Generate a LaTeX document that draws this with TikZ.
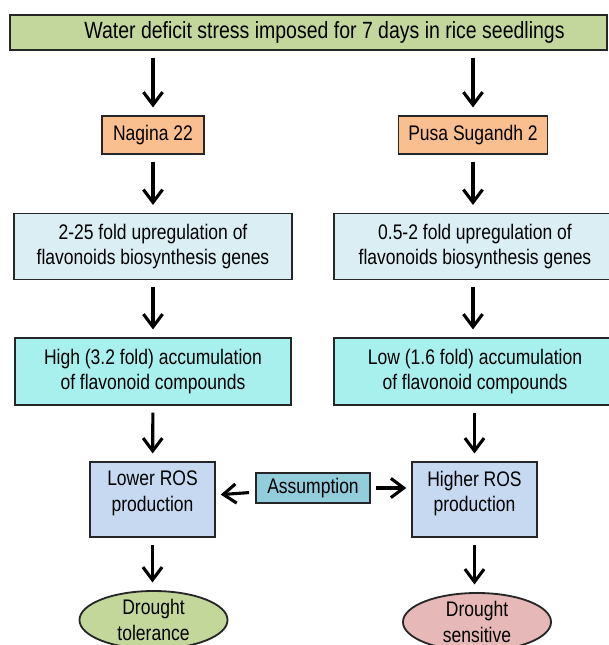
\documentclass[tikz,border=0pt]{standalone}
\usepackage{fontspec}
\setmainfont{Liberation Sans}[FakeStretch=0.83]
\usetikzlibrary{positioning, arrows.meta, shapes.geometric}

\definecolor{stressgreen}{RGB}{195,214,155}
\definecolor{cultivar}{RGB}{250,191,143}
\definecolor{genesblue}{RGB}{219,238,244}
\definecolor{flavcyan}{RGB}{168,240,238}
\definecolor{rosblue}{RGB}{198,217,241}
\definecolor{assumeblue}{RGB}{146,205,220}
\definecolor{tolgreen}{RGB}{196,215,155}
\definecolor{senspink}{RGB}{230,185,184}

\begin{document}
\begin{tikzpicture}[
    x=0.025cm, y=-0.025cm,
    box/.style={draw=black!85, line width=1.3pt, align=center, inner sep=0pt, font=\fontsize{15}{18}\selectfont},
    oval/.style={box, ellipse, minimum width=3.7cm, minimum height=1.45cm},
    arrow/.style={-{Straight Barb[length=3.2mm, width=4.8mm]}, line width=2.2pt, shorten <=0.17cm, shorten >=0.19cm}
]
\useasboundingbox (0,0) rectangle (608,645);

% Stress treatment
\node[box, fill=stressgreen, minimum width=14.925cm, minimum height=0.875cm, font=\fontsize{16.7}{19}\selectfont] (stress) at (308.5,32.5) {\hspace*{0.8cm}Water deficit stress imposed for 7 days in rice seedlings};

% Cultivars
\node[box, fill=cultivar, minimum width=2.55cm, minimum height=0.95cm] (nagina) at (153,135) {Nagina 22};
\node[box, fill=cultivar, minimum width=3.725cm, minimum height=0.95cm] (pusa) at (473,135) {Pusa Sugandh 2};

% Gene expression
\node[box, fill=genesblue, minimum width=6.93cm, minimum height=1.65cm] (genesL) at (153,246.5) {2-25 fold upregulation of\\flavonoids biosynthesis genes};
\node[box, fill=genesblue, minimum width=7.05cm, minimum height=1.65cm] (genesR) at (475,246.5) {0.5-2 fold upregulation of\\flavonoids biosynthesis genes};

% Flavonoid content
\node[box, fill=flavcyan, minimum width=6.9cm, minimum height=1.675cm] (flavL) at (153,371.5) {High (3.2 fold) accumulation\\of flavonoid compounds};
\node[box, fill=flavcyan, minimum width=7.05cm, minimum height=1.675cm] (flavR) at (475,371.5) {Low (1.6 fold) accumulation\\of flavonoid compounds};

% ROS
\node[box, fill=rosblue, minimum width=3.125cm, minimum height=1.875cm] (rosL) at (152.5,499.5) {Lower ROS\\production\\[-6pt]\mbox{}};
\node[box, fill=rosblue, minimum width=3.125cm, minimum height=1.875cm] (rosR) at (474.5,499.5) {Higher ROS\\production\\[-6pt]\mbox{}};
\node[box, fill=assumeblue, minimum width=2.85cm, minimum height=0.75cm] (assume) at (313,488) {Assumption};

% Outcomes
\node[oval, fill=tolgreen] (tolerance) at (153.5,620) {Drought\\tolerance};
\node[oval, fill=senspink] (sensitive) at (477,622) {Drought\\sensitive};

% Arrows
\draw[arrow] (stress.south -| nagina) -- (nagina);
\draw[arrow] (stress.south -| pusa) -- (pusa);
\draw[arrow] (nagina) -- (nagina |- genesL.north);
\draw[arrow] (pusa) -- (pusa |- genesR.north);
\draw[arrow] (genesL) -- (flavL);
\draw[arrow] (genesR.south -| pusa) -- (flavR.north -| pusa);
\draw[arrow] (flavL) -- (rosL);
\draw[arrow] (flavR.south -| rosR) -- (rosR);
\draw[arrow] (rosL) -- (rosL |- tolerance.north);
\draw[arrow] (rosR) -- (rosR |- sensitive.north);
\draw[arrow, shorten <=0.15cm, shorten >=0.12cm] (assume) -- (rosL);
\draw[arrow, shorten <=0.12cm, shorten >=0.12cm] (assume) -- (assume -| rosR.west);

\end{tikzpicture}
\end{document}
